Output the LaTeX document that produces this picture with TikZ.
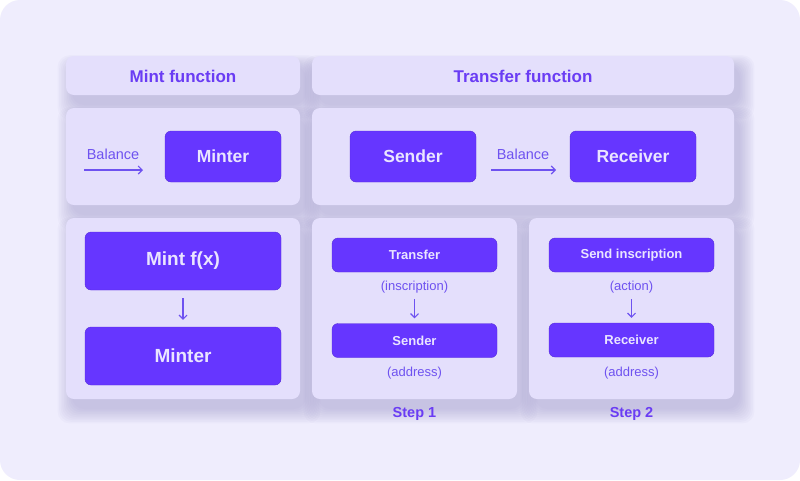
\documentclass[tikz,border=0pt]{standalone}
\usepackage{fontspec}
\setmainfont{Liberation Sans}
\usetikzlibrary{arrows.meta}
\definecolor{bgc}{HTML}{EFEDFD}
\definecolor{panelc}{HTML}{E4DFFC}
\definecolor{btnc}{HTML}{6636FF}
\definecolor{btntxt}{HTML}{EAE5FF}
\definecolor{headc}{HTML}{6A3CF4}
\definecolor{labc}{HTML}{6E52F0}
\definecolor{shadc}{HTML}{8A82BE}
\tikzset{
  panel/.style={fill=panelc, rounded corners=8pt},
  btn/.style={fill=btnc, rounded corners=6pt, draw=btnc!85!black, line width=0.4pt, text=btntxt, font=\bfseries, inner sep=0pt},
  lab/.style={text=labc, inner sep=0pt},
  arr/.style={draw=labc, line width=1.1pt, -{Straight Barb[length=4pt,width=8pt]}},
}
\newcommand{\softshadow}[4]{%
  \foreach \i in {0,...,9}{%
    \fill[shadc, opacity=0.045, rounded corners=12pt]
      (#1+6-\i*1.6, #2+10-\i*1.2) rectangle (#3+6+\i*1.6, #4+10+\i*1.6);
  }%
}
\begin{document}
\begin{tikzpicture}[x=1pt,y=-1pt]
\useasboundingbox (0,0) rectangle (800,480);
\fill[white] (0,0) rectangle (800,480);
\fill[bgc, rounded corners=20pt] (0,0) rectangle (800,480);
% shadows
\softshadow{66}{56}{300}{95}
\softshadow{312}{56}{734}{95}
\softshadow{66}{108}{300}{205}
\softshadow{312}{108}{734}{205}
\softshadow{66}{218}{300}{399}
\softshadow{312}{218}{517}{399}
\softshadow{529}{218}{734}{399}
% headers
\fill[panel] (66,56) rectangle (300,95);
\fill[panel] (312,56) rectangle (734,95);
\node[text=headc, font=\fontsize{17}{19}\selectfont\bfseries] (hmint) at (183,76) {Mint function};
\node[text=headc, font=\fontsize{17}{19}\selectfont\bfseries] (htr) at (523,76) {Transfer function};
% middle panels
\fill[panel] (66,108) rectangle (300,205);
\fill[panel] (312,108) rectangle (734,205);
\node[btn, minimum width=116pt, minimum height=51pt, font=\fontsize{17.5}{19}\selectfont\bfseries] (minter1) at (223,156.5) {Minter};
\node[lab, font=\fontsize{14.5}{16}\selectfont] (bal1) at (113,154) {Balance};
\coordinate (a1s) at (84,170);
\coordinate (a1e) at (143,170);
\draw[arr] (a1s) -- (a1e);
\node[btn, minimum width=126pt, minimum height=51pt, font=\fontsize{17.5}{19}\selectfont\bfseries] (sender1) at (413,156.5) {Sender};
\node[btn, minimum width=126pt, minimum height=51pt, font=\fontsize{17.5}{19}\selectfont\bfseries] (recv1) at (633,156.5) {Receiver};
\node[lab, font=\fontsize{14.5}{16}\selectfont] (bal2) at (523,154) {Balance};
\coordinate (a2s) at (491,170);
\coordinate (a2e) at (556,170);
\draw[arr] (a2s) -- (a2e);
% bottom panels
\fill[panel] (66,218) rectangle (300,399);
\fill[panel] (312,218) rectangle (517,399);
\fill[panel] (529,218) rectangle (734,399);
\node[btn, minimum width=196pt, minimum height=58pt, font=\fontsize{19}{21}\selectfont\bfseries] (mintf) at (183,261) {Mint f(x)};
\node[btn, minimum width=196pt, minimum height=58pt, font=\fontsize{19}{21}\selectfont\bfseries] (minter2) at (183,356) {Minter};
\draw[arr, shorten <=8pt, shorten >=7pt] (mintf) -- (minter2);
% step 1
\node[btn, minimum width=165pt, minimum height=34pt, font=\fontsize{13}{15}\selectfont\bfseries] (tr) at (414.5,255) {Transfer};
\node[lab, font=\fontsize{13}{15}\selectfont] (insc) at (414.5,287) {(inscription)};
\node[btn, minimum width=165pt, minimum height=34pt, font=\fontsize{13}{15}\selectfont\bfseries] (snd) at (414.5,340.5) {Sender};
\node[lab, font=\fontsize{13}{15}\selectfont] (addr1) at (414.5,373) {(address)};
\draw[arr, shorten <=6pt, shorten >=5pt] (insc) -- (snd);
\node[text=headc, font=\fontsize{14.5}{16}\selectfont\bfseries] (st1) at (414.5,414) {Step 1};
% step 2
\node[btn, minimum width=165pt, minimum height=34pt, font=\fontsize{13}{15}\selectfont\bfseries] (si) at (631.5,255) {Send inscription};
\node[lab, font=\fontsize{13}{15}\selectfont] (act) at (631.5,287) {(action)};
\node[btn, minimum width=165pt, minimum height=34pt, font=\fontsize{13}{15}\selectfont\bfseries] (rcv2) at (631.5,340) {Receiver};
\node[lab, font=\fontsize{13}{15}\selectfont] (addr2) at (631.5,373) {(address)};
\draw[arr, shorten <=6pt, shorten >=5pt] (act) -- (rcv2);
\node[text=headc, font=\fontsize{14.5}{16}\selectfont\bfseries] (st2) at (631.5,414) {Step 2};
\end{tikzpicture}
\end{document}
